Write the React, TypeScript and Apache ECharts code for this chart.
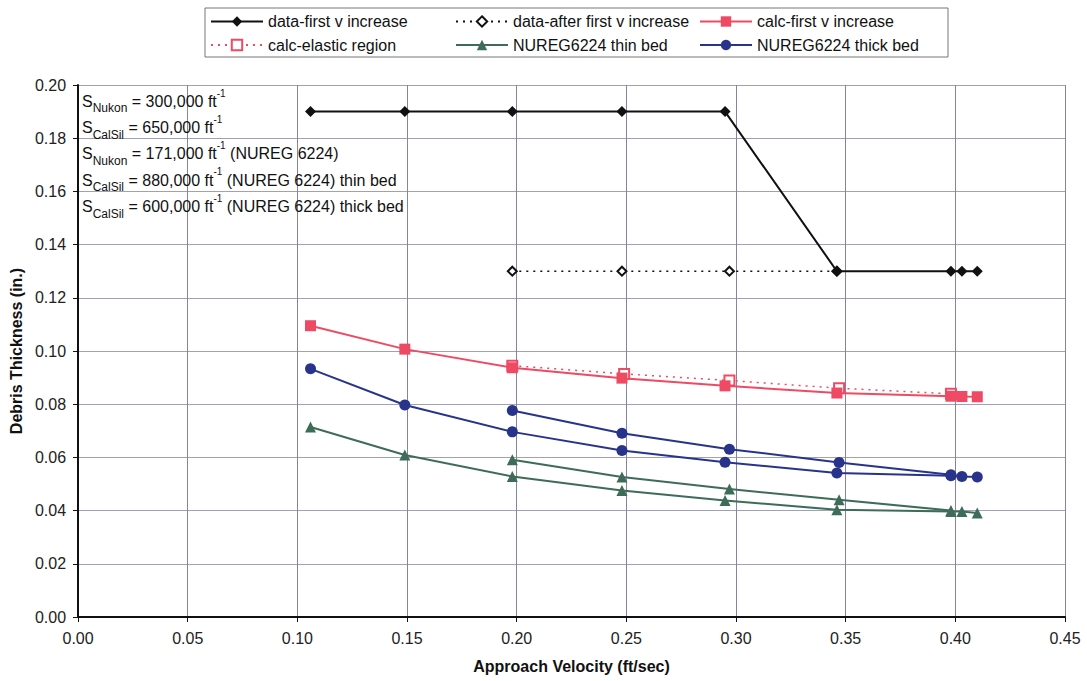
import React, { useEffect, useRef } from "react";
import * as echarts from "echarts";

const xTicks = [0, 0.05, 0.1, 0.15, 0.2, 0.25, 0.3, 0.35, 0.4, 0.45];

const dataFirstX = [0.106, 0.149, 0.198, 0.248, 0.295, 0.346, 0.398, 0.403, 0.41];
const dataFirstY = [0.19, 0.19, 0.19, 0.19, 0.19, 0.13, 0.13, 0.13, 0.13];

const dataAfterX = [0.198, 0.248, 0.297, 0.346];
const dataAfterY = [0.13, 0.13, 0.13, 0.13];

const calcFirstX = [0.106, 0.149, 0.198, 0.248, 0.295, 0.346, 0.398, 0.403, 0.41];
const calcFirstY = [0.1095, 0.1007, 0.0937, 0.0898, 0.0869, 0.0842, 0.083, 0.0829, 0.0828];

const calcElasticX = [0.198, 0.249, 0.297, 0.347, 0.398];
const calcElasticY = [0.0945, 0.0914, 0.0889, 0.086, 0.0839];

const thinX = [0.106, 0.149, 0.198, 0.248, 0.295, 0.346, 0.398, 0.403, 0.41];
const thinY = [0.0714, 0.0609, 0.0528, 0.0476, 0.0438, 0.0403, 0.0397, 0.0397, 0.0391];
const thin2X = [0.198, 0.248, 0.297, 0.347, 0.398];
const thin2Y = [0.0591, 0.0526, 0.0481, 0.0441, 0.04];

const thickX = [0.106, 0.149, 0.198, 0.248, 0.295, 0.346, 0.398, 0.403, 0.41];
const thickY = [0.0933, 0.0797, 0.0696, 0.0626, 0.0582, 0.0541, 0.0531, 0.0528, 0.0526];
const thick2X = [0.198, 0.248, 0.297, 0.347, 0.398];
const thick2Y = [0.0776, 0.0691, 0.0631, 0.0581, 0.0535];

const annotationLines = [
  ["Nukon", "300,000", ""],
  ["CalSil", "650,000", ""],
  ["Nukon", "171,000", " (NUREG 6224)"],
  ["CalSil", "880,000", " (NUREG 6224) thin bed"],
  ["CalSil", "600,000", " (NUREG 6224) thick bed"],
];

const RED = "#ef4a63";
const GREEN = "#3e6c58";
const BLUE = "#28348c";
const FONT = "'Liberation Sans', Arial, sans-serif";

const zip = (xs: number[], ys: number[]) => xs.map((x, i) => [x, ys[i]]);

export default function App() {
  const ref = useRef<HTMLDivElement>(null);
  useEffect(() => {
    document.body.style.margin = "0";
    const chart = echarts.init(ref.current!, null, { renderer: "svg" });
    const legendText = { fontFamily: FONT, fontSize: 16, color: "#111" };
    const legendCommon = {
      orient: "vertical" as const,
      top: 13.5,
      itemWidth: 52,
      itemHeight: 13,
      itemGap: 7.5,
      textStyle: legendText,
      selectedMode: false,
      padding: 0,
    };
    const annText = annotationLines
      .map(([sub, val, rest]) => `{n|S}{sub|${sub}}{n| = ${val} ft}{sup|-1}{n|${rest}}`)
      .join("\n");
    chart.setOption({
      animation: false,
      backgroundColor: "#fff",
      grid: { left: 77, right: 22, top: 85, bottom: 64 },
      legend: [
        { ...legendCommon, left: 210, data: ["data-first v increase", "calc-elastic region"] },
        { ...legendCommon, left: 455, data: ["data-after first v increase", "NUREG6224 thin bed"] },
        { ...legendCommon, left: 699, data: ["calc-first v increase", "NUREG6224 thick bed"] },
      ],
      xAxis: {
        type: "value",
        min: 0,
        max: 0.45,
        interval: 0.05,
        name: "Approach Velocity (ft/sec)",
        nameLocation: "middle",
        nameGap: 41,
        nameTextStyle: { fontFamily: FONT, fontSize: 16, fontWeight: "bold", color: "#111" },
        axisLine: { lineStyle: { color: "#111", width: 2 } },
        axisTick: { show: true, length: 5, lineStyle: { color: "#111" } },
        axisLabel: { fontFamily: FONT, fontSize: 16, color: "#222", margin: 13, formatter: (v: number) => v.toFixed(2) },
        splitLine: { show: true, lineStyle: { color: "#85859f", width: 1 } },
      },
      yAxis: {
        type: "value",
        min: 0,
        max: 0.2,
        interval: 0.02,
        name: "Debris Thickness (in.)",
        nameLocation: "middle",
        nameGap: 44,
        nameTextStyle: { fontFamily: FONT, fontSize: 16, fontWeight: "bold", color: "#111" },
        axisLine: { show: true, lineStyle: { color: "#111", width: 2 } },
        axisTick: { show: true, length: 5, lineStyle: { color: "#111" } },
        axisLabel: { fontFamily: FONT, fontSize: 16, color: "#222", margin: 12, formatter: (v: number) => v.toFixed(2) },
        splitLine: { show: true, lineStyle: { color: "#a0a0b8", width: 1 } },
      },
      graphic: [
        {
          type: "rect",
          shape: { x: 205, y: 8, width: 743, height: 49 },
          style: { fill: "none", stroke: "#777", lineWidth: 1 },
          silent: true,
        },
        {
          type: "text",
          x: 82,
          y: 88,
          z: 100,
          style: {
            text: annText,
            fontFamily: FONT,
            fontSize: 16,
            fill: "#111",
            rich: {
              n: { fontFamily: FONT, fontSize: 16, lineHeight: 26.3, color: "#111" },
              sub: { fontFamily: FONT, fontSize: 12, lineHeight: 18, verticalAlign: "bottom", color: "#111" },
              sup: { fontFamily: FONT, fontSize: 10, lineHeight: 19, verticalAlign: "top", color: "#111" },
            },
          },
        },
      ],
      series: [
        {
          name: "data-after first v increase",
          type: "line",
          data: zip(dataAfterX, dataAfterY),
          symbol: "emptyDiamond",
          symbolSize: 9,
          lineStyle: { color: "#111", width: 1.5, type: [2, 5] },
          itemStyle: { color: "#111", borderWidth: 1.5 },
        },
        {
          name: "data-first v increase",
          type: "line",
          data: zip(dataFirstX, dataFirstY),
          symbol: "diamond",
          symbolSize: 11,
          lineStyle: { color: "#111", width: 2 },
          itemStyle: { color: "#111" },
        },
        {
          name: "calc-elastic region",
          type: "line",
          data: zip(calcElasticX, calcElasticY),
          symbol: "emptyRect",
          symbolSize: 10,
          lineStyle: { color: RED, width: 1.5, type: [2, 5] },
          itemStyle: { color: RED, borderWidth: 1.5 },
        },
        {
          name: "calc-first v increase",
          type: "line",
          data: zip(calcFirstX, calcFirstY),
          symbol: "rect",
          symbolSize: 11,
          lineStyle: { color: RED, width: 2 },
          itemStyle: { color: RED },
        },
        {
          name: "NUREG6224 thin bed",
          type: "line",
          data: zip(thinX, thinY),
          symbol: "triangle",
          symbolSize: 11,
          lineStyle: { color: GREEN, width: 2 },
          itemStyle: { color: GREEN },
        },
        {
          name: "NUREG6224 thin bed (2)",
          type: "line",
          data: zip(thin2X, thin2Y),
          symbol: "triangle",
          symbolSize: 11,
          lineStyle: { color: GREEN, width: 2 },
          itemStyle: { color: GREEN },
        },
        {
          name: "NUREG6224 thick bed",
          type: "line",
          data: zip(thickX, thickY),
          symbol: "circle",
          symbolSize: 11,
          lineStyle: { color: BLUE, width: 2 },
          itemStyle: { color: BLUE },
        },
        {
          name: "NUREG6224 thick bed (2)",
          type: "line",
          data: zip(thick2X, thick2Y),
          symbol: "circle",
          symbolSize: 11,
          lineStyle: { color: BLUE, width: 2 },
          itemStyle: { color: BLUE },
        },
      ],
    });
    return () => chart.dispose();
  }, []);
  return <div ref={ref} style={{ width: 1087, height: 681 }} />;
}
